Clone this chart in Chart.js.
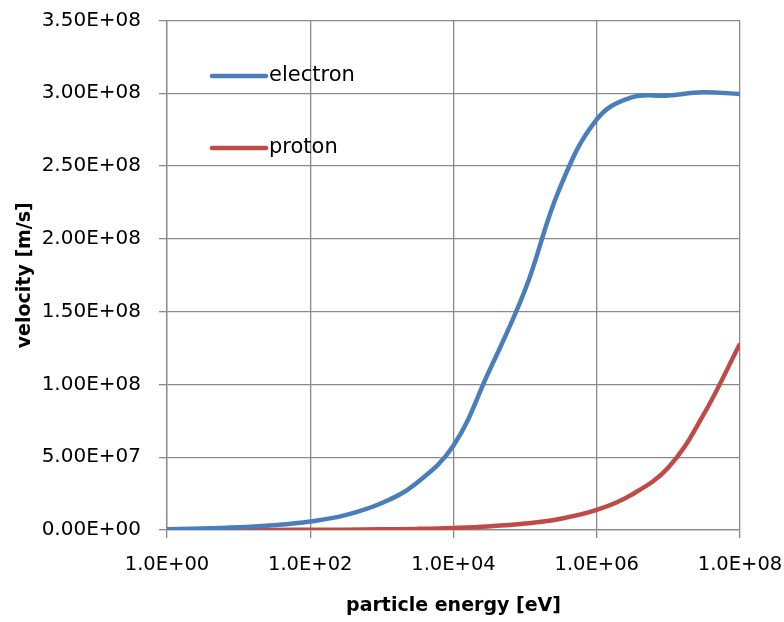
<!DOCTYPE html>
<html>
<head>
<meta charset="utf-8">
<script src="https://cdn.jsdelivr.net/npm/chart.js@4.4.1/dist/chart.umd.min.js"></script>
<style>
  html, body { margin: 0; padding: 0; background: #ffffff; }
  #wrap { width: 784px; height: 622px; }
</style>
</head>
<body>
<div id="wrap"><canvas id="velocityChart" width="784" height="622"></canvas></div>
<script>
// particle energy [eV]
const energies = [1, 3, 10, 30, 100, 300, 1e3, 3e3, 1e4, 3e4, 1e5, 3e5, 1e6, 3e6, 1e7, 3e7, 1e8];
// velocity [m/s]
const electronVelocity = [6e5, 1.0e6, 1.9e6, 3.3e6, 5.9e6, 1.0e7, 1.85e7, 3.2e7, 5.8e7, 1.07e8, 1.65e8, 2.34e8, 2.82e8, 2.97e8, 2.985e8, 3.007e8, 2.995e8];
const protonVelocity = [1.4e4, 2.4e4, 4.4e4, 7.6e4, 1.4e5, 2.4e5, 4.4e5, 7.6e5, 1.4e6, 2.4e6, 4.4e6, 7.6e6, 1.38e7, 2.4e7, 4.3e7, 7.8e7, 1.28e8];
const seriesNames = ['electron', 'proton'];
const xTickValues = [1, 1e2, 1e4, 1e6, 1e8];

const FONT = 'DejaVu Sans';

// Excel style scientific label, e.g. 3.50E+08
const sci = (v, digits) => {
    if (v === 0) return (0).toFixed(digits) + 'E+00';
    const exp = Math.floor(Math.log10(Math.abs(v)) + 1e-9);
    const mant = v / Math.pow(10, exp);
    const sign = exp < 0 ? '-' : '+';
    return mant.toFixed(digits) + 'E' + sign + String(Math.abs(exp)).padStart(2, '0');
};

const toPoints = (ys) => energies.map((e, i) => ({ x: e, y: ys[i] }));

// legend drawn inside the plot, Excel style
const insideLegend = {
    id: 'insideLegend',
    afterDraw(chart) {
        const ctx = chart.ctx;
        const rows = [76, 148];
        ctx.save();
        chart.data.datasets.forEach((ds, i) => {
            const y = rows[i];
            ctx.beginPath();
            ctx.strokeStyle = ds.borderColor;
            ctx.lineWidth = 4.5;
            ctx.lineCap = 'round';
            ctx.moveTo(212, y);
            ctx.lineTo(266, y);
            ctx.stroke();
            ctx.fillStyle = '#000000';
            ctx.font = '21px ' + FONT;
            ctx.textBaseline = 'middle';
            ctx.textAlign = 'left';
            ctx.fillText(ds.label, 269, y);
        });
        ctx.restore();
    }
};

const gridColor = '#8a8a8a';

new Chart(document.getElementById('velocityChart').getContext('2d'), {
    type: 'line',
    data: {
        datasets: [
            { label: seriesNames[0], data: toPoints(electronVelocity), borderColor: '#4a7ebb', borderWidth: 4.5, pointRadius: 0, tension: 0.4, fill: false },
            { label: seriesNames[1], data: toPoints(protonVelocity), borderColor: '#be4b48', borderWidth: 4.5, pointRadius: 0, tension: 0.4, fill: false }
        ]
    },
    options: {
        responsive: false,
        animation: false,
        layout: { padding: { top: 20.5, right: 44, bottom: 0, left: 0 } },
        plugins: {
            legend: { display: false },
            tooltip: { enabled: false }
        },
        scales: {
            x: {
                type: 'logarithmic',
                min: 1,
                max: 1e8,
                afterBuildTicks: (scale) => { scale.ticks = xTickValues.map(v => ({ value: v })); },
                afterFit: (scale) => { scale.height = 92; scale.paddingLeft = 0; scale.paddingRight = 0; },
                ticks: {
                    autoSkip: false,
                    maxRotation: 0,
                    padding: 15,
                    color: '#000000',
                    font: { family: FONT, size: 19.5 },
                    callback: (v) => sci(v, 1)
                },
                grid: { color: gridColor, lineWidth: 1.3, tickLength: 8, tickColor: gridColor },
                border: { color: gridColor, width: 1.3 },
                title: {
                    display: true,
                    text: 'particle energy [eV]',
                    color: '#000000',
                    font: { family: FONT, size: 19, weight: 'bold' },
                    padding: { top: 0, bottom: 5 }
                }
            },
            y: {
                min: 0,
                max: 3.5e8,
                afterFit: (scale) => { scale.width = 167; scale.paddingTop = 0; scale.paddingBottom = 0; },
                ticks: {
                    stepSize: 5e7,
                    padding: 18,
                    color: '#000000',
                    font: { family: FONT, size: 20 },
                    callback: (v) => sci(v, 2)
                },
                grid: { color: gridColor, lineWidth: 1.3, tickLength: 8, tickColor: gridColor },
                border: { color: gridColor, width: 1.3 },
                title: {
                    display: true,
                    text: 'velocity [m/s]',
                    color: '#000000',
                    font: { family: FONT, size: 19, weight: 'bold' },
                    padding: { top: 14, bottom: 0 }
                }
            }
        }
    },
    plugins: [insideLegend]
});
</script>
</body>
</html>
